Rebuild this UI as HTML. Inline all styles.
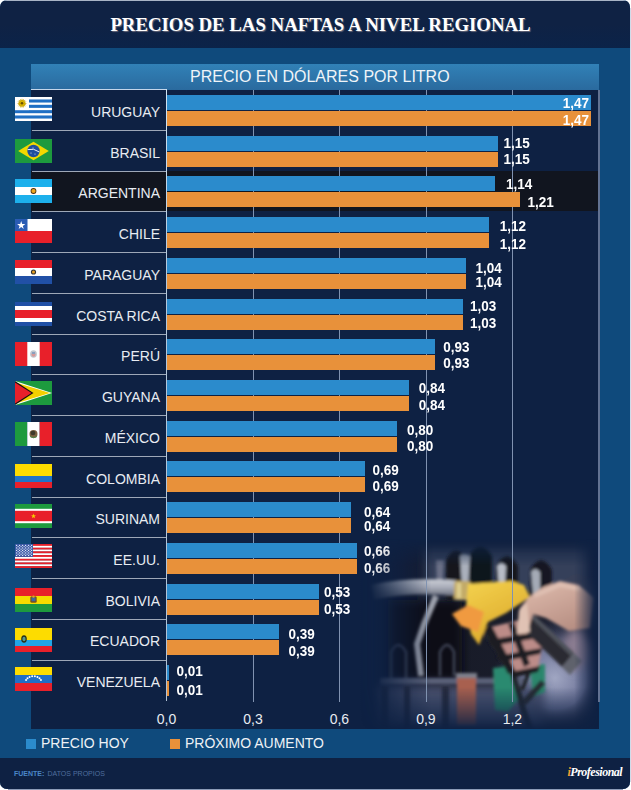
<!DOCTYPE html><html><head><meta charset="utf-8"><style>
*{margin:0;padding:0;box-sizing:border-box}
html,body{width:631px;height:790px;background:#fff;overflow:hidden}
body{position:relative;font-family:"Liberation Sans",sans-serif}
.a{position:absolute}
#panel{left:0;top:0;width:630px;height:789px;border-radius:7px;background:#0f4a7c;overflow:hidden}
#hdr{left:0;top:0;width:630px;height:48px;background:linear-gradient(#0f2244 50%,#0b2349);border-top:1px solid #a9b4c6}
#title{left:0;top:14px;width:641px;text-align:center;font:bold 18.8px/21px "Liberation Serif",serif;color:#fff;text-shadow:1px 1px 1px #6a6a7a;white-space:nowrap}
#sub{left:31px;top:64px;width:568px;height:26px;background:linear-gradient(#3181b7,#2a6a9e)}
#subt{left:159px;top:4px;font:16px/17px "Liberation Sans",sans-serif;color:#f0f4f8;white-space:nowrap}
#chart{left:31px;top:90px;width:568px;height:639px;background:#0e2143}
.sep{height:1px;background:#9ea8b8;left:32px;width:134px}
.grid{width:1px;background:#8092b0;top:90px;height:612px}
.bb{background:#2b8bcc;height:15px}
.ob{background:#e8913a;height:15px}
.lbl{font:14px/16px "Liberation Sans",sans-serif;color:#e8ecf2;text-align:right;width:140px;white-space:nowrap}
.val{font:bold 13.5px/15px "Liberation Sans",sans-serif;color:#fff;white-space:nowrap;transform:scaleY(1.1);transform-origin:0 7px}
.ax{font:14px/16px "Liberation Sans",sans-serif;color:#e8ecf2;white-space:nowrap;width:40px;text-align:center}
.flag{width:37px;height:24px;overflow:hidden}
.flag svg{display:block}
.legend{font:14px/16px "Liberation Sans",sans-serif;color:#eef2f6;white-space:nowrap}
#foot{left:0;top:758px;width:630px;height:31px;background:#0e2143}
</style></head><body>
<div id="panel" class="a">
<div id="hdr" class="a"></div>
<div id="title" class="a">PRECIOS DE LAS NAFTAS A NIVEL REGIONAL</div>
<div id="sub" class="a"><div id="subt" class="a">PRECIO EN DÓLARES POR LITRO</div></div>
<div id="chart" class="a"></div>
<div class="a" style="left:31px;top:171px;width:567px;height:40px;background:#11151f"></div>
<div class="a grid" style="left:253px"></div>
<div class="a grid" style="left:339px"></div>
<div class="a grid" style="left:426px"></div>
<div class="a grid" style="left:512px"></div>
<div class="a grid" style="left:598px;width:2px;background:#627292"></div>
<div class="a" style="left:31px;top:89px;width:136px;height:1px;background:#c4d6ea"></div>
<div class="a" style="left:166px;top:89px;width:1px;height:612px;background:linear-gradient(#d0e4f4,#b4c8dc 30%,#b0c2d6)"></div>
<div class="a flag" style="left:15px;top:97px"><svg width="37" height="24" viewBox="0 0 37 24"><rect width="37" height="24" fill="#fff"/><rect x="0" y="2.47" width="37" height="3.07" fill="#1f6fc4"/><rect x="0" y="7.80" width="37" height="3.07" fill="#1f6fc4"/><rect x="0" y="13.13" width="37" height="3.07" fill="#1f6fc4"/><rect x="0" y="18.47" width="37" height="3.07" fill="#1f6fc4"/><rect x="0" y="0" width="14" height="13.1" fill="#fff"/><polygon points="12.00,6.30 9.94,6.89 11.62,8.21 9.49,7.97 10.54,9.84 8.67,8.79 8.91,10.92 7.59,9.24 7.00,11.30 6.41,9.24 5.09,10.92 5.33,8.79 3.46,9.84 4.51,7.97 2.38,8.21 4.06,6.89 2.00,6.30 4.06,5.71 2.38,4.39 4.51,4.63 3.46,2.76 5.33,3.81 5.09,1.68 6.41,3.36 7.00,1.30 7.59,3.36 8.91,1.68 8.67,3.81 10.54,2.76 9.49,4.63 11.62,4.39 9.94,5.71" fill="#c9a400"/><circle cx="7" cy="6.3" r="2.6" fill="#d9b400"/><circle cx="7" cy="6.3" r="1.3" fill="#6a5000"/></svg></div>
<div class="a lbl" style="left:20px;top:103.8px">URUGUAY</div>
<div class="a bb" style="left:167px;top:95px;width:424px"></div>
<div class="a ob" style="left:167px;top:111px;width:424px"></div>
<div class="a val" style="left:540px;width:49px;text-align:right;top:95.4px">1,47</div>
<div class="a val" style="left:540px;width:49px;text-align:right;top:111.5px">1,47</div>
<div class="a sep" style="top:130px"></div>
<div class="a flag" style="left:15px;top:139px"><svg width="37" height="24" viewBox="0 0 37 24"><rect width="37" height="24" fill="#1d9a3e"/><polygon points="3.2,12 18.5,2.8 33.8,12 18.5,21.2" fill="#f2d800"/><circle cx="18.5" cy="12" r="6.2" fill="#1f4e9e"/><path d="M12.6 10.6 q6 -1.8 11.8 2.4" stroke="#e8eef8" stroke-width="1" fill="none"/><circle cx="16" cy="14" r="0.5" fill="#fff"/><circle cx="20" cy="15" r="0.5" fill="#fff"/><circle cx="18" cy="9" r="0.5" fill="#fff"/></svg></div>
<div class="a lbl" style="left:20px;top:144.5px">BRASIL</div>
<div class="a bb" style="left:167px;top:136px;width:331px"></div>
<div class="a ob" style="left:167px;top:152px;width:331px"></div>
<div class="a val" style="left:503.6px;top:135.1px">1,15</div>
<div class="a val" style="left:503.6px;top:151.3px">1,15</div>
<div class="a sep" style="top:171px"></div>
<div class="a flag" style="left:15px;top:179px"><svg width="37" height="24" viewBox="0 0 37 24"><rect x="0" y="0.00" width="37" height="8.30" fill="#1db0ec"/><rect x="0" y="8.00" width="37" height="8.30" fill="#ffffff"/><rect x="0" y="16.00" width="37" height="8.30" fill="#1db0ec"/><circle cx="18.5" cy="12" r="2.9" fill="#4a3010"/><circle cx="18.5" cy="12" r="2.1" fill="#f0a820"/></svg></div>
<div class="a lbl" style="left:20px;top:185.3px">ARGENTINA</div>
<div class="a bb" style="left:167px;top:176px;width:328px"></div>
<div class="a ob" style="left:167px;top:192px;width:353px"></div>
<div class="a val" style="left:505.9px;top:175.8px">1,14</div>
<div class="a val" style="left:527.6px;top:193.5px">1,21</div>
<div class="a sep" style="top:211px"></div>
<div class="a flag" style="left:15px;top:219px"><svg width="37" height="24" viewBox="0 0 37 24"><rect width="37" height="12" fill="#fff"/><rect y="12" width="37" height="12" fill="#e8202a"/><rect width="12.5" height="12" fill="#2a5cb4"/><polygon points="6.20,2.10 7.21,5.01 10.29,5.07 7.84,6.93 8.73,9.88 6.20,8.12 3.67,9.88 4.56,6.93 2.11,5.07 5.19,5.01" fill="#fff"/></svg></div>
<div class="a lbl" style="left:20px;top:226.0px">CHILE</div>
<div class="a bb" style="left:167px;top:217px;width:322px"></div>
<div class="a ob" style="left:167px;top:233px;width:322px"></div>
<div class="a val" style="left:499.8px;top:217.8px">1,12</div>
<div class="a val" style="left:499.8px;top:235.8px">1,12</div>
<div class="a sep" style="top:252px"></div>
<div class="a flag" style="left:15px;top:260px"><svg width="37" height="24" viewBox="0 0 37 24"><rect x="0" y="0.00" width="37" height="8.30" fill="#e8202a"/><rect x="0" y="8.00" width="37" height="8.30" fill="#ffffff"/><rect x="0" y="16.00" width="37" height="8.30" fill="#2150a6"/><circle cx="18.5" cy="12" r="2.6" fill="#333"/><circle cx="18.5" cy="12" r="1.5" fill="#e8a020"/></svg></div>
<div class="a lbl" style="left:20px;top:266.8px">PARAGUAY</div>
<div class="a bb" style="left:167px;top:258px;width:299px"></div>
<div class="a ob" style="left:167px;top:274px;width:299px"></div>
<div class="a val" style="left:475.6px;top:260.8px">1,04</div>
<div class="a val" style="left:475.6px;top:275.3px">1,04</div>
<div class="a sep" style="top:293px"></div>
<div class="a flag" style="left:15px;top:302px"><svg width="37" height="24" viewBox="0 0 37 24"><rect width="37" height="24" fill="#2050a6"/><rect y="4" width="37" height="16" fill="#fff"/><rect y="8" width="37" height="8" fill="#e8202a"/></svg></div>
<div class="a lbl" style="left:20px;top:307.5px">COSTA RICA</div>
<div class="a bb" style="left:167px;top:299px;width:296px"></div>
<div class="a ob" style="left:167px;top:315px;width:296px"></div>
<div class="a val" style="left:470.1px;top:299.1px">1,03</div>
<div class="a val" style="left:470.1px;top:316.4px">1,03</div>
<div class="a sep" style="top:334px"></div>
<div class="a flag" style="left:15px;top:342px"><svg width="37" height="24" viewBox="0 0 37 24"><rect width="37" height="24" fill="#e8202a"/><rect x="12.3" width="12.4" height="24" fill="#fff"/><ellipse cx="18.5" cy="12" rx="3.4" ry="3.8" fill="#c0c8d0"/><ellipse cx="18.5" cy="12.4" rx="2" ry="2.4" fill="#d89898"/><rect x="17" y="10" width="3" height="2" fill="#8aa0c0"/></svg></div>
<div class="a lbl" style="left:20px;top:348.2px">PERÚ</div>
<div class="a bb" style="left:167px;top:339px;width:268px"></div>
<div class="a ob" style="left:167px;top:355px;width:268px"></div>
<div class="a val" style="left:443.2px;top:339.9px">0,93</div>
<div class="a val" style="left:443.2px;top:356.0px">0,93</div>
<div class="a sep" style="top:374px"></div>
<div class="a flag" style="left:15px;top:381px"><svg width="37" height="24" viewBox="0 0 37 24"><rect width="37" height="24" fill="#1d9a3e"/><polygon points="0,0 37,12 0,24" fill="#fff"/><polygon points="0,1.2 35,12 0,22.8" fill="#f4d000"/><polygon points="0,0 18.5,12 0,24" fill="#111"/><polygon points="0,1.6 16.5,12 0,22.4" fill="#e8202a"/></svg></div>
<div class="a lbl" style="left:20px;top:389.0px">GUYANA</div>
<div class="a bb" style="left:167px;top:380px;width:242px"></div>
<div class="a ob" style="left:167px;top:396px;width:242px"></div>
<div class="a val" style="left:418.8px;top:380.8px">0,84</div>
<div class="a val" style="left:418.8px;top:398.2px">0,84</div>
<div class="a sep" style="top:415px"></div>
<div class="a flag" style="left:15px;top:422px"><svg width="37" height="24" viewBox="0 0 37 24"><rect width="12.3" height="24" fill="#1d9a3e"/><rect x="12.3" width="12.4" height="24" fill="#fff"/><rect x="24.7" width="12.3" height="24" fill="#e8202a"/><ellipse cx="18.5" cy="12" rx="4" ry="4" fill="#7a6040"/><ellipse cx="18" cy="11" rx="2.4" ry="2.2" fill="#3e3a2a"/><path d="M15 14.5 q3.5 2.5 7 0" stroke="#4a8a4a" stroke-width="1" fill="none"/></svg></div>
<div class="a lbl" style="left:20px;top:429.7px">MÉXICO</div>
<div class="a bb" style="left:167px;top:421px;width:230px"></div>
<div class="a ob" style="left:167px;top:437px;width:230px"></div>
<div class="a val" style="left:407.0px;top:422.8px">0,80</div>
<div class="a val" style="left:407.0px;top:438.6px">0,80</div>
<div class="a sep" style="top:456px"></div>
<div class="a flag" style="left:15px;top:464px"><svg width="37" height="24" viewBox="0 0 37 24"><rect width="37" height="12" fill="#fddc00"/><rect y="12" width="37" height="6" fill="#1f74c8"/><rect y="18" width="37" height="6" fill="#e8202a"/></svg></div>
<div class="a lbl" style="left:20px;top:470.5px">COLOMBIA</div>
<div class="a bb" style="left:167px;top:461px;width:198px"></div>
<div class="a ob" style="left:167px;top:477px;width:198px"></div>
<div class="a val" style="left:372.4px;top:463.2px">0,69</div>
<div class="a val" style="left:372.4px;top:479.3px">0,69</div>
<div class="a sep" style="top:497px"></div>
<div class="a flag" style="left:15px;top:504px"><svg width="37" height="24" viewBox="0 0 37 24"><rect width="37" height="24" fill="#1d9a3e"/><rect y="4.8" width="37" height="14.4" fill="#fff"/><rect y="6.8" width="37" height="10.4" fill="#e8202a"/><polygon points="18.50,9.60 19.11,11.36 20.97,11.40 19.49,12.52 20.03,14.30 18.50,13.24 16.97,14.30 17.51,12.52 16.03,11.40 17.89,11.36" fill="#f4d000"/></svg></div>
<div class="a lbl" style="left:20px;top:511.2px">SURINAM</div>
<div class="a bb" style="left:167px;top:502px;width:184px"></div>
<div class="a ob" style="left:167px;top:518px;width:184px"></div>
<div class="a val" style="left:363.9px;top:504.8px">0,64</div>
<div class="a val" style="left:363.9px;top:519.0px">0,64</div>
<div class="a sep" style="top:537px"></div>
<div class="a flag" style="left:15px;top:544px"><svg width="37" height="24" viewBox="0 0 37 24"><rect y="0.00" width="37" height="2.05" fill="#e8202a"/><rect y="1.85" width="37" height="2.05" fill="#fff"/><rect y="3.69" width="37" height="2.05" fill="#e8202a"/><rect y="5.54" width="37" height="2.05" fill="#fff"/><rect y="7.38" width="37" height="2.05" fill="#e8202a"/><rect y="9.23" width="37" height="2.05" fill="#fff"/><rect y="11.08" width="37" height="2.05" fill="#e8202a"/><rect y="12.92" width="37" height="2.05" fill="#fff"/><rect y="14.77" width="37" height="2.05" fill="#e8202a"/><rect y="16.62" width="37" height="2.05" fill="#fff"/><rect y="18.46" width="37" height="2.05" fill="#e8202a"/><rect y="20.31" width="37" height="2.05" fill="#fff"/><rect y="22.15" width="37" height="2.05" fill="#e8202a"/><rect width="18" height="12.9" fill="#3c5aa6"/><circle cx="1.6" cy="1.4" r="0.65" fill="#e6ecf8"/><circle cx="4.6" cy="1.4" r="0.65" fill="#e6ecf8"/><circle cx="7.6" cy="1.4" r="0.65" fill="#e6ecf8"/><circle cx="10.6" cy="1.4" r="0.65" fill="#e6ecf8"/><circle cx="13.6" cy="1.4" r="0.65" fill="#e6ecf8"/><circle cx="16.6" cy="1.4" r="0.65" fill="#e6ecf8"/><circle cx="1.6" cy="3.9" r="0.65" fill="#e6ecf8"/><circle cx="4.6" cy="3.9" r="0.65" fill="#e6ecf8"/><circle cx="7.6" cy="3.9" r="0.65" fill="#e6ecf8"/><circle cx="10.6" cy="3.9" r="0.65" fill="#e6ecf8"/><circle cx="13.6" cy="3.9" r="0.65" fill="#e6ecf8"/><circle cx="16.6" cy="3.9" r="0.65" fill="#e6ecf8"/><circle cx="1.6" cy="6.4" r="0.65" fill="#e6ecf8"/><circle cx="4.6" cy="6.4" r="0.65" fill="#e6ecf8"/><circle cx="7.6" cy="6.4" r="0.65" fill="#e6ecf8"/><circle cx="10.6" cy="6.4" r="0.65" fill="#e6ecf8"/><circle cx="13.6" cy="6.4" r="0.65" fill="#e6ecf8"/><circle cx="16.6" cy="6.4" r="0.65" fill="#e6ecf8"/><circle cx="1.6" cy="8.9" r="0.65" fill="#e6ecf8"/><circle cx="4.6" cy="8.9" r="0.65" fill="#e6ecf8"/><circle cx="7.6" cy="8.9" r="0.65" fill="#e6ecf8"/><circle cx="10.6" cy="8.9" r="0.65" fill="#e6ecf8"/><circle cx="13.6" cy="8.9" r="0.65" fill="#e6ecf8"/><circle cx="16.6" cy="8.9" r="0.65" fill="#e6ecf8"/><circle cx="1.6" cy="11.4" r="0.65" fill="#e6ecf8"/><circle cx="4.6" cy="11.4" r="0.65" fill="#e6ecf8"/><circle cx="7.6" cy="11.4" r="0.65" fill="#e6ecf8"/><circle cx="10.6" cy="11.4" r="0.65" fill="#e6ecf8"/><circle cx="13.6" cy="11.4" r="0.65" fill="#e6ecf8"/><circle cx="16.6" cy="11.4" r="0.65" fill="#e6ecf8"/><circle cx="3.1" cy="2.6" r="0.6" fill="#e6ecf8"/><circle cx="6.1" cy="2.6" r="0.6" fill="#e6ecf8"/><circle cx="9.1" cy="2.6" r="0.6" fill="#e6ecf8"/><circle cx="12.1" cy="2.6" r="0.6" fill="#e6ecf8"/><circle cx="15.1" cy="2.6" r="0.6" fill="#e6ecf8"/><circle cx="3.1" cy="5.2" r="0.6" fill="#e6ecf8"/><circle cx="6.1" cy="5.2" r="0.6" fill="#e6ecf8"/><circle cx="9.1" cy="5.2" r="0.6" fill="#e6ecf8"/><circle cx="12.1" cy="5.2" r="0.6" fill="#e6ecf8"/><circle cx="15.1" cy="5.2" r="0.6" fill="#e6ecf8"/><circle cx="3.1" cy="7.7" r="0.6" fill="#e6ecf8"/><circle cx="6.1" cy="7.7" r="0.6" fill="#e6ecf8"/><circle cx="9.1" cy="7.7" r="0.6" fill="#e6ecf8"/><circle cx="12.1" cy="7.7" r="0.6" fill="#e6ecf8"/><circle cx="15.1" cy="7.7" r="0.6" fill="#e6ecf8"/><circle cx="3.1" cy="10.2" r="0.6" fill="#e6ecf8"/><circle cx="6.1" cy="10.2" r="0.6" fill="#e6ecf8"/><circle cx="9.1" cy="10.2" r="0.6" fill="#e6ecf8"/><circle cx="12.1" cy="10.2" r="0.6" fill="#e6ecf8"/><circle cx="15.1" cy="10.2" r="0.6" fill="#e6ecf8"/></svg></div>
<div class="a lbl" style="left:20px;top:551.9px">EE.UU.</div>
<div class="a bb" style="left:167px;top:543px;width:190px"></div>
<div class="a ob" style="left:167px;top:559px;width:190px"></div>
<div class="a val" style="left:363.9px;top:543.6px">0,66</div>
<div class="a val" style="left:363.9px;top:561.0px">0,66</div>
<div class="a sep" style="top:578px"></div>
<div class="a flag" style="left:15px;top:588px"><svg width="37" height="24" viewBox="0 0 37 24"><rect x="0" y="0.00" width="37" height="8.30" fill="#e8202a"/><rect x="0" y="8.00" width="37" height="8.30" fill="#f4dc00"/><rect x="0" y="16.00" width="37" height="8.30" fill="#1d9a3e"/><rect x="15.3" y="8.2" width="6.4" height="6.6" rx="1.5" fill="#7a5020"/><rect x="16.6" y="9.4" width="3.8" height="3.8" fill="#3a6aa0"/><circle cx="18.5" cy="8.6" r="1.2" fill="#e8a020"/></svg></div>
<div class="a lbl" style="left:20px;top:592.7px">BOLIVIA</div>
<div class="a bb" style="left:167px;top:584px;width:152px"></div>
<div class="a ob" style="left:167px;top:600px;width:152px"></div>
<div class="a val" style="left:324.0px;top:584.8px">0,53</div>
<div class="a val" style="left:324.0px;top:602.2px">0,53</div>
<div class="a sep" style="top:619px"></div>
<div class="a flag" style="left:15px;top:628px"><svg width="37" height="24" viewBox="0 0 37 24"><rect width="37" height="12" fill="#fddc00"/><rect y="12" width="37" height="6" fill="#22a6e6"/><rect y="18" width="37" height="6" fill="#e8202a"/><ellipse cx="9" cy="11" rx="2.8" ry="3.8" fill="#283018"/><ellipse cx="9" cy="11" rx="1.6" ry="2.2" fill="#5a9a8a"/></svg></div>
<div class="a lbl" style="left:20px;top:633.4px">ECUADOR</div>
<div class="a bb" style="left:167px;top:624px;width:112px"></div>
<div class="a ob" style="left:167px;top:640px;width:112px"></div>
<div class="a val" style="left:288.6px;top:626.5px">0,39</div>
<div class="a val" style="left:288.6px;top:643.7px">0,39</div>
<div class="a sep" style="top:660px"></div>
<div class="a flag" style="left:15px;top:667px"><svg width="37" height="24" viewBox="0 0 37 24"><rect x="0" y="0.00" width="37" height="8.30" fill="#fddc00"/><rect x="0" y="8.00" width="37" height="8.30" fill="#1f6ec6"/><rect x="0" y="16.00" width="37" height="8.30" fill="#e8202a"/><circle cx="11.06" cy="12.99" r="1" fill="#fff"/><circle cx="12.48" cy="11.25" r="1" fill="#fff"/><circle cx="14.58" cy="9.97" r="1" fill="#fff"/><circle cx="17.14" cy="9.29" r="1" fill="#fff"/><circle cx="19.86" cy="9.29" r="1" fill="#fff"/><circle cx="22.42" cy="9.97" r="1" fill="#fff"/><circle cx="24.52" cy="11.25" r="1" fill="#fff"/><circle cx="25.94" cy="12.99" r="1" fill="#fff"/></svg></div>
<div class="a lbl" style="left:20px;top:674.2px">VENEZUELA</div>
<div class="a bb" style="left:167px;top:665px;width:2px"></div>
<div class="a ob" style="left:167px;top:681px;width:2px"></div>
<div class="a val" style="left:176.5px;top:664.2px">0,01</div>
<div class="a val" style="left:176.5px;top:683.2px">0,01</div>
<svg class="a" style="left:360px;top:520px" width="238" height="209" viewBox="360 520 238 209">
<defs>
<linearGradient id="fl" x1="360" y1="0" x2="598" y2="0" gradientUnits="userSpaceOnUse">
<stop offset="0" stop-color="#fff" stop-opacity="0"/>
<stop offset="0.05" stop-color="#fff" stop-opacity="0.05"/>
<stop offset="0.3" stop-color="#fff" stop-opacity="1"/>
<stop offset="0.9" stop-color="#fff" stop-opacity="1"/>
<stop offset="1" stop-color="#fff" stop-opacity="0"/>
</linearGradient>
<linearGradient id="ft" x1="0" y1="520" x2="0" y2="729" gradientUnits="userSpaceOnUse">
<stop offset="0" stop-color="#fff" stop-opacity="0"/>
<stop offset="0.09" stop-color="#fff" stop-opacity="0"/>
<stop offset="0.22" stop-color="#fff" stop-opacity="1"/>
<stop offset="0.8" stop-color="#fff" stop-opacity="1"/>
<stop offset="0.92" stop-color="#fff" stop-opacity="0.45"/>
<stop offset="1" stop-color="#fff" stop-opacity="0.05"/>
</linearGradient>
<radialGradient id="glow" cx="555" cy="678" r="62" gradientUnits="userSpaceOnUse">
<stop offset="0" stop-color="#a0a6c2"/>
<stop offset="0.5" stop-color="#70769a"/>
<stop offset="1" stop-color="#2a3048" stop-opacity="0"/>
</radialGradient>
<linearGradient id="yel" x1="470" y1="580" x2="500" y2="640" gradientUnits="userSpaceOnUse">
<stop offset="0" stop-color="#f4d24e"/>
<stop offset="1" stop-color="#dcaa2c"/>
</linearGradient>
<linearGradient id="hose" x1="0" y1="579" x2="0" y2="596" gradientUnits="userSpaceOnUse">
<stop offset="0" stop-color="#cdd0d8"/>
<stop offset="0.5" stop-color="#a8acb8"/>
<stop offset="1" stop-color="#6a6e7c"/>
</linearGradient>
<linearGradient id="skin" x1="540" y1="582" x2="560" y2="632" gradientUnits="userSpaceOnUse">
<stop offset="0" stop-color="#dcb8aa"/>
<stop offset="1" stop-color="#b89084"/>
</linearGradient>
<linearGradient id="hl" x1="0" y1="545" x2="0" y2="590" gradientUnits="userSpaceOnUse">
<stop offset="0" stop-color="#6a7088" stop-opacity="0.3"/>
<stop offset="0.5" stop-color="#9aa0ae"/>
<stop offset="1" stop-color="#b4b8c2"/>
</linearGradient>
<linearGradient id="base" x1="360" y1="0" x2="598" y2="0" gradientUnits="userSpaceOnUse">
<stop offset="0" stop-color="#0e2143"/>
<stop offset="0.2" stop-color="#141c34"/>
<stop offset="0.4" stop-color="#181b28"/>
<stop offset="0.8" stop-color="#1a1e2c"/>
<stop offset="1" stop-color="#16203c"/>
</linearGradient>
<mask id="ml" maskUnits="userSpaceOnUse" x="360" y="520" width="238" height="209"><rect x="360" y="520" width="238" height="209" fill="url(#fl)"/></mask>
<mask id="mt" maskUnits="userSpaceOnUse" x="360" y="520" width="238" height="209"><rect x="360" y="520" width="238" height="209" fill="url(#ft)"/></mask>
<filter id="b1" x="-20%" y="-20%" width="140%" height="140%"><feGaussianBlur stdDeviation="1.4"/></filter>
<filter id="b3" x="-50%" y="-50%" width="200%" height="200%"><feGaussianBlur stdDeviation="5"/></filter>
</defs>
<g mask="url(#ml)"><g mask="url(#mt)">
<rect x="360" y="520" width="238" height="209" fill="url(#base)"/>
<rect x="360" y="520" width="238" height="209" fill="url(#glow)"/>
<g filter="url(#b3)">
<rect x="374" y="686" width="170" height="43" fill="#4c5270"/>
<rect x="425" y="545" width="165" height="50" fill="#36405a"/>
<ellipse cx="578" cy="605" rx="22" ry="28" fill="#3a4056"/>
<ellipse cx="576" cy="650" rx="14" ry="20" fill="#8a7c90"/>
<rect x="388" y="600" width="74" height="80" fill="#0d0e13"/>
</g>
<g filter="url(#b1)">
<!-- upper holsters -->
<path d="M446 600 L446 560 Q456 540 467 560 L467 600 Z" fill="#12151e"/>
<path d="M469 598 L469 556 Q480 536 492 556 L492 598 Z" fill="#10131b"/>
<path d="M496 598 L496 566 Q507 546 518 566 L518 598 Z" fill="#12151e"/>
<path d="M530 600 L530 570 Q541 550 552 570 L552 600 Z" fill="#141720"/>
<path d="M460 556 Q464 552 470 556 L468 588 L462 588 Z" fill="#aab0bc"/>
<path d="M497 566 Q501 560 506 566 L505 588 L499 588 Z" fill="#b8bcc6"/>
<path d="M531 572 Q535 566 540 572 L540 594 L533 594 Z" fill="#a4aab6"/>
<path d="M436 560 L444 560 L442 590 L437 590 Z" fill="#6a7086"/>
<!-- lower holsters -->
<path d="M391 679 L391 652 Q398 638 406 652 L406 679" stroke="#4a5064" stroke-width="2" fill="none"/>
<path d="M440 676 L440 652 Q447 638 454 652 L454 676" stroke="#4a5064" stroke-width="2" fill="none"/>
<path d="M436 596 L424 624 L417 644 L421 676" stroke="#9ca0ac" stroke-width="6" fill="none"/>
<rect x="380" y="678" width="145" height="6" fill="#5a6078"/>
<rect x="381" y="686" width="7" height="43" fill="#262a3c"/>
<rect x="404" y="686" width="6" height="43" fill="#262a3c"/>
<rect x="442" y="686" width="7" height="43" fill="#262a3c"/>
<!-- hose -->
<path d="M372 592 Q412 584 456 588" stroke="url(#hose)" stroke-width="15" fill="none"/>
<!-- red tube -->
<path d="M457 678 L476 678 L476 725 L457 725 Z" fill="#a8604f"/>
<rect x="456" y="673" width="21" height="5" fill="#7e808c"/>
<!-- green -->
<path d="M493 668 L512 666 L518 700 L508 712 L495 710 Z" fill="#2c8a70"/>
<path d="M530 666 L545 664 L545 692 L533 697 Z" fill="#2a866c"/>
<!-- dark lever -->
<path d="M484 630 L512 670 L524 712 L530 729" stroke="#22252e" stroke-width="6" fill="none"/>
<path d="M543 682 L524 703" stroke="#262932" stroke-width="6" fill="none"/>
<path d="M532 664 L522 690" stroke="#1e2028" stroke-width="4" fill="none"/>
<!-- guard + fingers -->
<path d="M486 628 L520 620 L542 648 L538 668 L510 674 Z" fill="#bc8c88"/>
<path d="M484 628 L492 626 L516 672 L508 674 Z" fill="#1c1d24"/>
<path d="M488 640 L536 632 L538 638 L491 646 Z" fill="#1c1d24"/>
<path d="M496 656 L542 648 L540 654 L500 662 Z" fill="#1c1d24"/>
<path d="M508 624 L514 622 L530 664 L524 667 Z" fill="#1c1d24"/>
<path d="M510 672 L540 666 L538 672 L512 678 Z" fill="#1c1d24"/>
<!-- brass -->
<rect x="454" y="581" width="17" height="19" rx="3" fill="#c2aa68"/>
<rect x="457" y="583" width="4" height="15" fill="#e0d090"/>
<!-- yellow nozzle -->
<path d="M468 584 L511 581 L524 585 L530 597 L506 613 L488 622 L479 645 L471 634 L466 607 Z" fill="url(#yel)"/>
<!-- orange spout -->
<path d="M452 614 L468 605 L484 612 L478 632 L461 626 Z" fill="#f09a40"/>
<!-- black handle -->
<path d="M529 610 L574 653 L562 667 L517 624 Z" fill="#2a2b32"/>
<path d="M529 610 L574 653 L571 656 L526 613 Z" fill="#50525c"/>
<path d="M574 653 L582 661 L570 675 L562 667 Z" fill="#5e626c"/>
<!-- hand -->
<path d="M518 634 L520 608 L529 597 L543 587 L560 581 L579 585 L594 598 L590 628 L569 631 L546 618 L533 614 L529 627 L527 634 Z" fill="url(#skin)"/>
<path d="M517 634 L519 610 L527 603 L530 632 Z" fill="#e0c2b4"/>
<path d="M534 596 L560 585 L580 589" stroke="#e6cabc" stroke-width="4" fill="none" opacity="0.6"/>
</g>
</g></g>
</svg>

<div class="a grid" style="left:426px;top:520px;height:182px"></div>
<div class="a grid" style="left:512px;top:520px;height:182px"></div>
<div class="a grid" style="left:598px;width:2px;top:520px;height:182px;background:#627292"></div>
<div class="a ax" style="left:146.5px;top:711.4px">0,0</div>
<div class="a ax" style="left:233.0px;top:711.4px">0,3</div>
<div class="a ax" style="left:319.4px;top:711.4px">0,6</div>
<div class="a ax" style="left:405.9px;top:711.4px">0,9</div>
<div class="a ax" style="left:492.4px;top:711.4px">1,2</div>
<div class="a" style="left:26px;top:739px;width:10px;height:10px;background:#2b8bcc"></div>
<div class="a legend" style="left:41px;top:735px">PRECIO HOY</div>
<div class="a" style="left:170px;top:739px;width:10px;height:10px;background:#e8913a"></div>
<div class="a legend" style="left:185px;top:735px">PRÓXIMO AUMENTO</div>
<div id="foot" class="a"></div>
<div class="a" style="left:14px;top:768.5px;font:bold 7px/9px 'Liberation Sans',sans-serif;color:#4a86c6;white-space:nowrap">FUENTE:</div>
<div class="a" style="left:47.5px;top:768.5px;font:7px/9px 'Liberation Sans',sans-serif;color:#4f6e9e;white-space:nowrap">DATOS PROPIOS</div>
<div class="a" style="left:567.5px;top:765px;font:italic bold 12px/14px 'Liberation Serif',serif;color:#fff;white-space:nowrap;letter-spacing:-0.5px"><span style="color:#f0a030">i</span>Profesional</div>
</div>
<div class="a" style="left:630px;top:8px;width:1px;height:774px;background:#d0dcea"></div>
<div class="a" style="left:8px;top:789px;width:615px;height:1px;background:#8c9cb8"></div>
</body></html>
